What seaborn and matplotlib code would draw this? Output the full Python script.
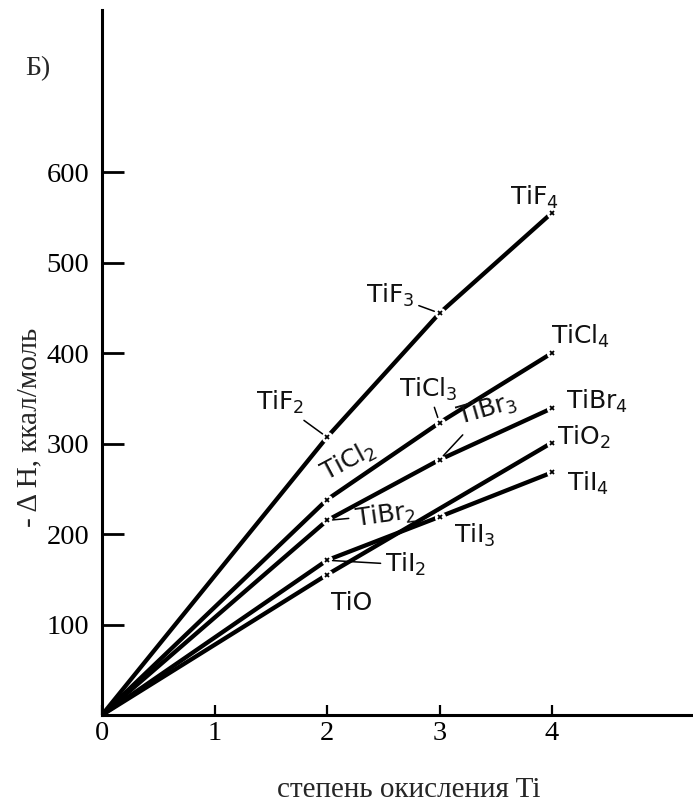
import matplotlib
matplotlib.use('Agg')

import matplotlib.pyplot as plt
import seaborn as sns
import pandas as pd

sns.set_theme(style="ticks", context="paper")
plt.rcParams['font.family'] = ['Liberation Serif', 'DejaVu Serif']
plt.rcParams['mathtext.fontset'] = 'dejavusans'

# степень окисления Ti and -dH (ккал/моль)
ox_states = [0, 2, 3, 4]
dH_TiF = [0, 307, 444, 555]
dH_TiCl = [0, 238, 323, 400]
dH_TiBr = [0, 215, 282, 339]
dH_TiI = [0, 171, 219, 268]
ox_TiO = [0, 2, 4]
dH_TiO = [0, 155, 301]

names_TiF = ['', 'TiF$_2$', 'TiF$_3$', 'TiF$_4$']
names_TiCl = ['', 'TiCl$_2$', 'TiCl$_3$', 'TiCl$_4$']
names_TiBr = ['', 'TiBr$_2$', 'TiBr$_3$', 'TiBr$_4$']
names_TiI = ['', 'TiI$_2$', 'TiI$_3$', 'TiI$_4$']
names_TiO = ['', 'TiO', 'TiO$_2$']

x_ticks = [0, 1, 2, 3, 4]
y_ticks = [100, 200, 300, 400, 500, 600]

frames = []
for fam, xs, ys, ns in [('F', ox_states, dH_TiF, names_TiF),
                        ('Cl', ox_states, dH_TiCl, names_TiCl),
                        ('Br', ox_states, dH_TiBr, names_TiBr),
                        ('I', ox_states, dH_TiI, names_TiI),
                        ('O', ox_TiO, dH_TiO, names_TiO)]:
    frames.append(pd.DataFrame({'ox': xs, 'dH': ys, 'name': ns, 'fam': fam}))
df = pd.concat(frames, ignore_index=True)

# label placement: (x, y, rotation, draw leader)
label_pos = {
    'TiF$_2$': (1.58, 345, 0, True),
    'TiF$_3$': (2.56, 464, 0, True),
    'TiF$_4$': (3.84, 572, 0, False),
    'TiCl$_2$': (2.19, 280, 28, False),
    'TiCl$_3$': (2.90, 360, 0, True),
    'TiCl$_4$': (4.25, 418, 0, False),
    'TiBr$_2$': (2.52, 221, 8, True),
    'TiBr$_3$': (3.42, 338, 16, True),
    'TiBr$_4$': (4.40, 346, 0, False),
    'TiI$_2$': (2.70, 166, 0, True),
    'TiI$_3$': (3.31, 199, 0, False),
    'TiI$_4$': (4.32, 256, 0, False),
    'TiO': (2.22, 124, 0, False),
    'TiO$_2$': (4.28, 307, 0, False),
}

fig = plt.figure(figsize=(6.93, 8.08), dpi=100)
ax = fig.add_axes([0.1472, 0.1151, 0.8528, 0.8725])

sns.lineplot(data=df, x='ox', y='dH', hue='fam', units='fam', estimator=None,
             sort=False, palette=['black'] * 5, linewidth=3.1, legend=False, ax=ax)

pts = df[df['name'] != '']
ax.plot(pts['ox'], pts['dH'], 'o', ms=8, mfc='white', mec='none', zorder=3)
ax.plot(pts['ox'], pts['dH'], 'x', ms=3.5, mew=1.3, color='black', zorder=4)

for _, r in pts.iterrows():
    lx, ly, rot, leader = label_pos[r['name']]
    if leader:
        ax.annotate(r['name'], xy=(r['ox'], r['dH']), xytext=(lx, ly),
                    ha='center', va='center', rotation=rot, fontsize=18,
                    family='DejaVu Sans', color='#111111',
                    arrowprops=dict(arrowstyle='-', lw=1.1, color='black',
                                    shrinkA=1, shrinkB=4))
    else:
        ax.text(lx, ly, r['name'], ha='center', va='center', rotation=rot,
                fontsize=18, family='DejaVu Sans', color='#111111')

ax.set_xlim(0, 5.253)
ax.set_ylim(0, 779)
ax.set_xticks(x_ticks)
ax.set_xticklabels([str(t) for t in x_ticks])
ax.set_yticks(y_ticks)
ax.set_yticklabels([str(t) for t in y_ticks])
ax.tick_params(axis='y', direction='in', length=16, width=2.0, pad=9,
               labelsize=20.5, colors='black')
ax.tick_params(axis='x', direction='in', length=7, width=1.6, pad=4,
               labelsize=20.5, colors='black')
ax.set_xlabel('')
ax.set_ylabel('')
sns.despine(ax=ax, top=True, right=True)
for s in ['left', 'bottom']:
    ax.spines[s].set_linewidth(2.2)
    ax.spines[s].set_color('black')

fig.text(0.590, 0.013, 'степень окисления Ti', ha='center', va='baseline',
         fontsize=21)
fig.text(0.043, 0.4715, '- Δ H, ккал/моль', ha='center', va='center',
         rotation=90, fontsize=21)
fig.text(0.055, 0.9146, 'Б)', ha='center', va='center', fontsize=20)

fig.savefig('out.png', dpi=100)
